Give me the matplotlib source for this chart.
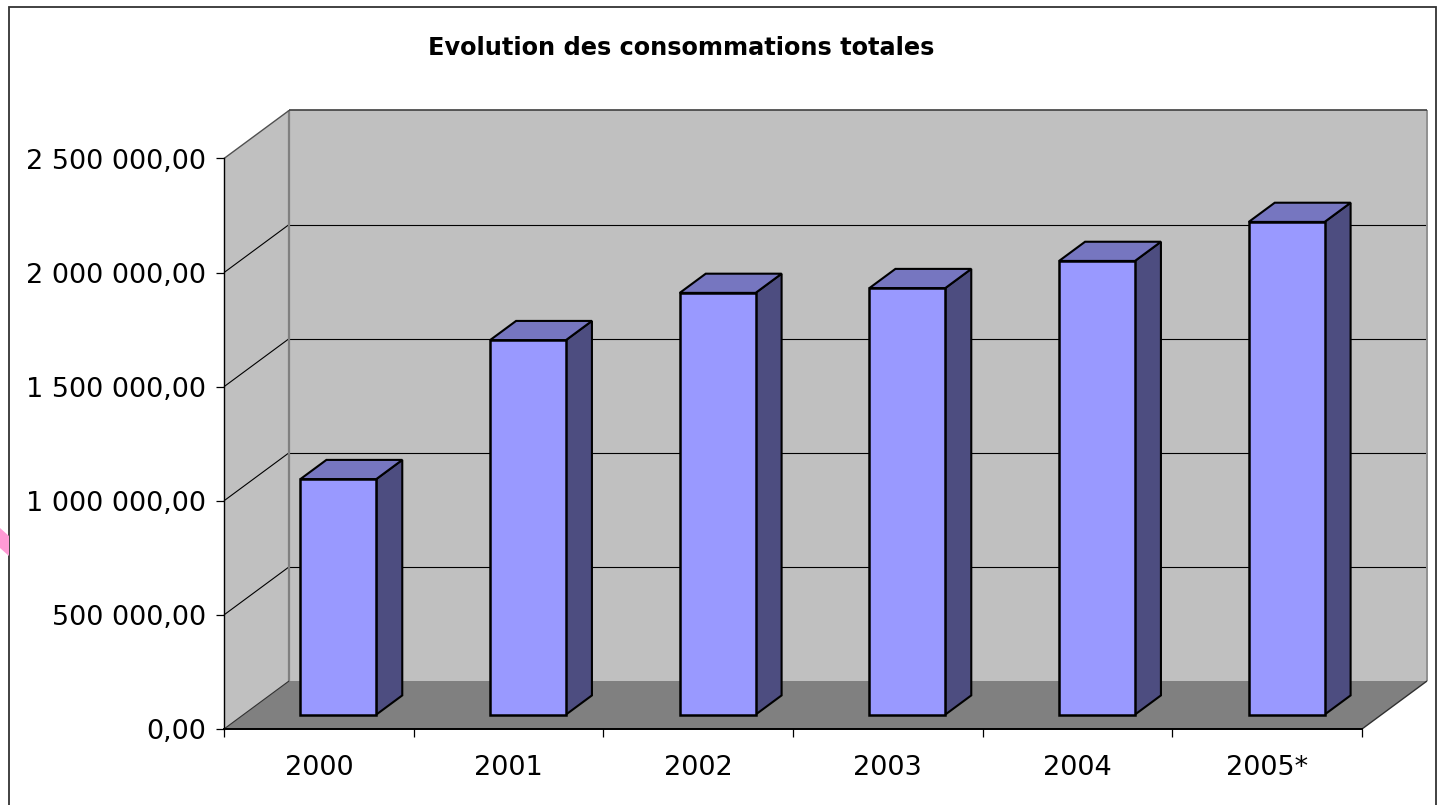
import matplotlib
matplotlib.use("Agg")
import matplotlib.pyplot as plt
from matplotlib.patches import Polygon, Rectangle
from matplotlib.ticker import FixedLocator, FuncFormatter

# ---------------- data ----------------
categories = ["2000", "2001", "2002", "2003", "2004", "2005*"]
values = [1032000, 1641000, 1848000, 1869000, 1988000, 2159000]
y_ticks = [0, 500000, 1000000, 1500000, 2000000, 2500000]
title = "Evolution des consommations totales"

# ---------------- figure ----------------
W, H = 1437, 805
fig = plt.figure(figsize=(W / 100, H / 100), dpi=100)
fig.patch.set_facecolor("white")

# front plane axes (pixel geometry)
ax = fig.add_axes([224 / W, (H - 729) / H, 1138 / W, 570.5 / H])
n = len(categories)
ymax = y_ticks[-1]
ax.set_xlim(0, n)
ax.set_ylim(0, ymax)
ax.set_facecolor("none")

# oblique depth projection (full depth = 65 px right, 48 px up)
DX = 65 / (1138 / n)
DY = 48 / 570.5 * ymax


def P(x, y, d):
    return (x + d * DX, y + d * DY)


def poly(pts, fc, ec="none", lw=0, z=1):
    p = Polygon(pts, closed=True, facecolor=fc, edgecolor=ec, linewidth=lw,
                zorder=z, clip_on=False, joinstyle="miter")
    ax.add_patch(p)


def line(a, b, color, lw, z=1.5):
    ax.plot([a[0], b[0]], [a[1], b[1]], color=color, lw=lw, zorder=z,
            clip_on=False, solid_capstyle="butt")


wall = "#c0c0c0"
floor = "#808080"

# back wall
poly([P(0, 0, 1), P(n, 0, 1), P(n, ymax, 1), P(0, ymax, 1)], wall)
# side wall
poly([P(0, 0, 0), P(0, 0, 1), P(0, ymax, 1), P(0, ymax, 0)], wall)
# floor
poly([P(0, 0, 0), P(n, 0, 0), P(n, 0, 1), P(0, 0, 1)], floor)

# grid lines
for t in y_ticks[1:-1]:
    line(P(0, t, 1), P(n, t, 1), "black", 0.8)
    line(P(0, t, 0), P(0, t, 1), "black", 0.8)

# wall edges
line(P(0, 0, 1), P(0, ymax, 1), "#808080", 1.6)
line(P(n, 0, 1), P(n, ymax, 1), "#909090", 1.4)
line(P(0, ymax, 0), P(0, ymax, 1), "#505050", 1.0)
line(P(0, ymax, 1), P(n, ymax, 1), "#404040", 1.2)
line(P(0, 0, 0), P(0, 0, 1), "#303030", 0.8)
line(P(n, 0, 0), P(n, 0, 1), "#303030", 1.0)

# bars
front_c = "#9999ff"
top_c = "#7676c0"
side_c = "#4d4d80"
w0, w1 = 0.3, 0.7
d0, d1 = 0.3, 0.7
for i, v in enumerate(values):
    x0, x1 = i + w0, i + w1
    poly([P(x1, 0, d0), P(x1, 0, d1), P(x1, v, d1), P(x1, v, d0)],
         side_c, "black", 1.5, 3)
    poly([P(x0, v, d0), P(x1, v, d0), P(x1, v, d1), P(x0, v, d1)],
         top_c, "black", 1.5, 3)
    poly([P(x0, 0, d0), P(x1, 0, d0), P(x1, v, d0), P(x0, v, d0)],
         front_c, "black", 1.8, 3.1)

# axes / ticks
for s in ["top", "right"]:
    ax.spines[s].set_visible(False)
ax.spines["left"].set_color("black")
ax.spines["left"].set_linewidth(1.0)
ax.spines["bottom"].set_color("black")
ax.spines["bottom"].set_linewidth(1.4)
ax.spines["left"].set_zorder(2)
ax.spines["bottom"].set_zorder(2)


def fmt(v, pos=None):
    return f"{v:,.2f}".replace(",", " ").replace(".", ",")


ax.yaxis.set_major_locator(FixedLocator(y_ticks))
ax.yaxis.set_major_formatter(FuncFormatter(fmt))
ax.tick_params(axis="y", direction="out", length=5.8, width=0.9,
               labelsize=19.5, pad=7.2, colors="black")

ax.xaxis.set_major_locator(FixedLocator(list(range(n + 1))))
ax.xaxis.set_major_formatter(FuncFormatter(lambda v, p: ""))
ax.xaxis.set_minor_locator(FixedLocator([i + 0.5 for i in range(n)]))
ax.xaxis.set_minor_formatter(FuncFormatter(lambda v, p: categories[int(v)]))
ax.tick_params(axis="x", which="major", direction="out", length=6,
               width=0.9, colors="black")
ax.tick_params(axis="x", which="minor", length=0, pad=18.5, labelsize=19.5)

# title
fig.text(681 / W, 1 - 48 / H, title, ha="center", va="center",
         fontsize=17.3, fontweight="bold", color="black")

# outer frame
fig.patches.append(Rectangle((9 / W, -0.05), (1436 - 9) / W, 1.05 - 7 / H,
                             transform=fig.transFigure, fill=False,
                             edgecolor="#333333", linewidth=1.3))
# small pink artefact on the left edge
fig.patches.append(Polygon([(0, 1 - 528 / H), (9 / W, 1 - 536 / H),
                            (9 / W, 1 - 556 / H), (0, 1 - 548 / H)],
                           closed=True, transform=fig.transFigure,
                           facecolor="#ff9ad5", edgecolor="none"))

fig.savefig("out.png", dpi=100)
